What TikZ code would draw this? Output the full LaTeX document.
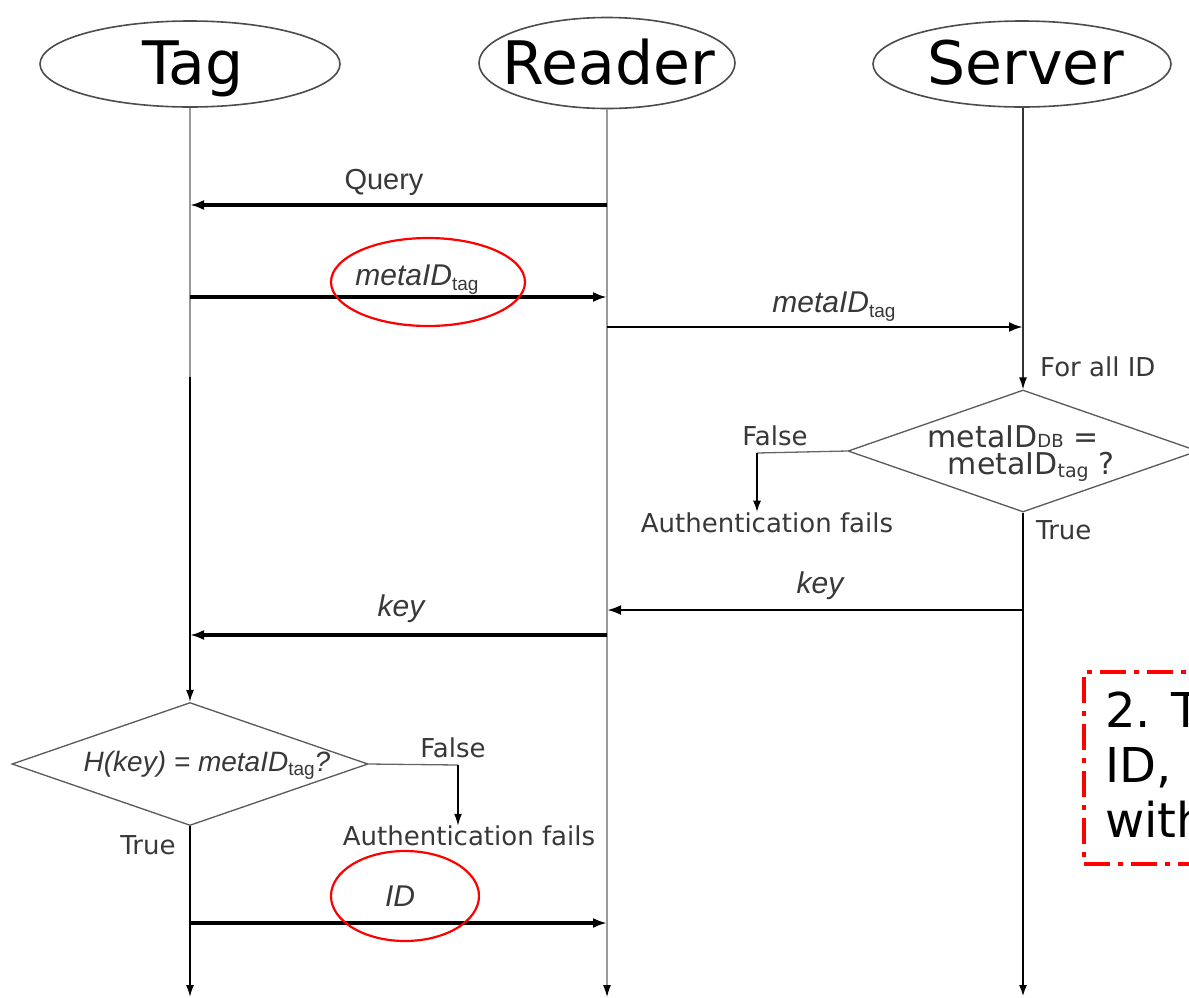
\documentclass[tikz,border=0pt]{standalone}
\usepackage{fontspec}
\setmainfont{DejaVu Sans}
\newfontfamily\arialf{Liberation Sans}
\usetikzlibrary{shapes.geometric,arrows.meta}

% lowered small subscript, upright
\newcommand{\ssub}[2][5pt]{\raisebox{-#1}{\upshape\fontsize{19}{20}\selectfont #2}}

\tikzset{
  head/.style={ellipse, draw=black!70, line width=1.6pt, inner sep=0pt},
  headtxt/.style={inner sep=0pt, anchor=base, font=\fontsize{60}{64}\selectfont},
  lifeG/.style={draw=black!40, line width=1.1pt},
  lifeK/.style={draw=black, line width=1.6pt},
  lifeKK/.style={draw=black, line width=2.6pt},
  tipS/.style={-{Latex[length=12pt,width=8pt,black]}},
  msg/.style={draw=black, line width=3.2pt, -{Latex[length=14pt,width=10pt]}},
  decision/.style={diamond, draw=black!65, line width=1.3pt, inner sep=0pt},
  lbl/.style={inner sep=0pt, text=black!78},
  vlab/.style={lbl, font=\fontsize{26}{28}\selectfont},
  alab/.style={lbl, font=\arialf\itshape\fontsize{30}{32}\selectfont},
  hilite/.style={ellipse, draw=red, line width=2.2pt, inner sep=0pt},
  notebox/.style={draw=red, line width=3.6pt,
                  dash pattern=on 26pt off 8pt on 5pt off 8pt},
}

\begin{document}
\begin{tikzpicture}[x=1pt,y=-1pt]
\clip (0,0) rectangle (1189,997);
\fill[white] (0,0) rectangle (1189,997);

% participants
\node[head, minimum width=300, minimum height=86] (tagH) at (190,64) {};
\node[head, minimum width=256, minimum height=91] (rdH)  at (607,63) {};
\node[head, minimum width=298, minimum height=86] (svH)  at (1022,64) {};
\node[headtxt] (tagL) at (193,84) {Tag};
\node[headtxt] (rdL)  at (609,84) {Reader};
\node[headtxt] (svL)  at (1026,84) {Server};

% decision diamonds
\node[decision, minimum width=350, minimum height=122] (svD) at (1023,451) {};
\node[decision, minimum width=356, minimum height=123] (tgD) at (190,764) {};

\node[lbl, anchor=base, font=\fontsize{30}{32}\selectfont] (svT1) at (1013,447)
  {metaID{\fontsize{18}{18}\selectfont DB} =};
\node[lbl, anchor=base, font=\fontsize{30}{32}\selectfont] (svT2) at (1031,474)
  {metaID\ssub[3pt]{tag} ?};
\node[lbl, font=\arialf\itshape\fontsize{28}{30}\selectfont] (tgT) at (207,765)
  {H(key) = metaID\ssub[4pt]{tag}?};

% lifeline break points and ends
\coordinate (tagK)   at (190,377);
\coordinate (tagEnd) at (190,997);
\coordinate (rdEnd)  at (607,997);
\coordinate (svEnd)  at (1023,997);

% lifelines
\draw[lifeG] (tagH.south) -- (tagK);
\draw[lifeK, tipS] (tagK) -- (tgD.north);
\draw[lifeK, tipS] (tgD.south) -- (tagEnd);
\draw[lifeG, tipS] (rdH.south) -- (rdEnd);
\draw[draw=black!80, line width=1.3pt, tipS] (svH.south -| svD.north) -- (svD.north);
\draw[lifeKK, tipS] (svD.south) -- (svEnd);

% message end points
\coordinate (q1) at (607,205);  \coordinate (q2) at (190,205);
\coordinate (a1) at (190,297);  \coordinate (a2) at (607,297);
\coordinate (b1) at (607,327);  \coordinate (b2) at (1023,327);
\coordinate (k1) at (1023,610); \coordinate (k2) at (607,610);
\coordinate (k3) at (607,635);  \coordinate (k4) at (190,635);
\coordinate (i1) at (190,923);  \coordinate (i2) at (607,923);

% messages
\draw[msg] (q1) -- (q2);
\draw[msg] (a1) -- (a2);
\draw[msg, line width=2.6pt] (b1) -- (b2);
\draw[msg, line width=2.6pt] (k1) -- (k2);
\draw[msg] (k3) -- (k4);
\draw[msg] (i1) -- (i2);

% message labels
\node[lbl, font=\arialf\fontsize{29}{30}\selectfont] (lq) at (384,182) {Query};
\node[alab] (lm1) at (417,280) {metaID\ssub{tag}};
\node[alab] (lm2) at (834,307) {metaID\ssub{tag}};
\node[alab] (lk1) at (820,586) {key};
\node[alab] (lk2) at (401,609) {key};
\node[alab] (lid) at (400,896) {ID};

% server side decision labels
\node[vlab, anchor=west] (fa) at (1040,367) {For all ID};
\node[vlab] (fR) at (775,436) {False};
\node[vlab] (aR) at (767,523) {Authentication fails};
\node[vlab, anchor=west] (tR) at (1036,530) {True};
\coordinate (cR) at (757,453);
\draw[draw=black!60, line width=1.3pt] (svD.west) -- (cR);
\draw[draw=black, line width=2.4pt, tipS] (cR) -- (cR |- aR.north);

% tag side decision labels
\node[vlab] (fL) at (453,748) {False};
\node[vlab] (aL) at (469,836) {Authentication fails};
\node[vlab] (tL) at (148,845) {True};
\coordinate (cL) at (458,765);
\draw[draw=black!60, line width=1.3pt] (tgD.east) -- (cL);
\draw[draw=black, line width=1.4pt, tipS] (cL) -- (cL |- aL.north);

% red highlights
\node[hilite, minimum width=194, minimum height=88] (h1) at (428,282) {};
\node[hilite, minimum width=148, minimum height=90] (h2) at (405,896) {};

% annotation box
\node[notebox, anchor=north west, minimum width=160, minimum height=192,
      inner sep=0pt] (nb) at (1082,670) {};
\node[anchor=north west, align=left, inner sep=0pt,
      font=\fontsize{48}{55}\selectfont] (nt) at (1105,692) {2. T\\ID,\\with};
\end{tikzpicture}
\end{document}
